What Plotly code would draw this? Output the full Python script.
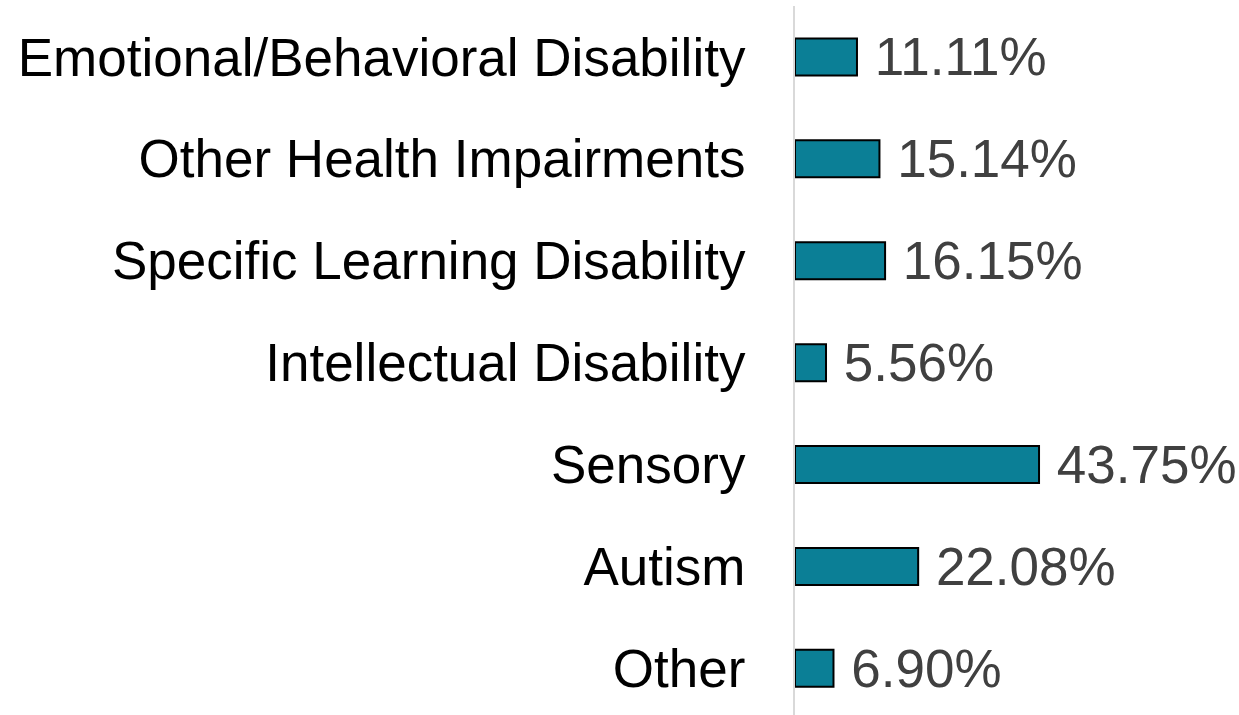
import plotly.graph_objects as go

# categories listed bottom to top (plotly draws the first category at the bottom)
categories = [
    "Other",
    "Autism",
    "Sensory",
    "Intellectual Disability",
    "Specific Learning Disability",
    "Other Health Impairments",
    "Emotional/Behavioral Disability",
]
values = [6.90, 22.08, 43.75, 5.56, 16.15, 15.14, 11.11]
value_labels = [f"\u00a0{v:.2f}%" for v in values]

BAR_COLOR = "#0b7f96"
FONT = "Liberation Sans, Arial, sans-serif"

fig = go.Figure()

fig.add_trace(go.Bar(
    x=values,
    y=categories,
    orientation="h",
    marker=dict(color=BAR_COLOR, line=dict(color="#000000", width=2)),
    text=value_labels,
    textposition="outside",
    textfont=dict(family=FONT, size=53, color="#404040"),
    constraintext="none",
    cliponaxis=False,
    hoverinfo="skip",
))

fig.update_layout(
    width=1239,
    height=715,
    margin=dict(l=795, r=0, t=6, b=0),
    paper_bgcolor="white",
    plot_bgcolor="white",
    bargap=0.637,
    showlegend=False,
    font=dict(family=FONT, size=53, color="#000000"),
)

fig.update_xaxes(
    range=[0, 79.6],
    visible=False,
    showgrid=False,
    zeroline=False,
)

fig.update_yaxes(
    range=[-0.458, 6.5],
    showline=True,
    linecolor="#d9d9d9",
    linewidth=2,
    showgrid=False,
    ticks="",
    ticklabelstandoff=37,
    tickfont=dict(family=FONT, size=53, color="#000000"),
)

# drop the browser's default page margin so the chart sits at the top-left corner
fig.write_html(
    "out.html",
    config={"displayModeBar": False},
    post_script="document.body.style.margin = '0px';",
)
